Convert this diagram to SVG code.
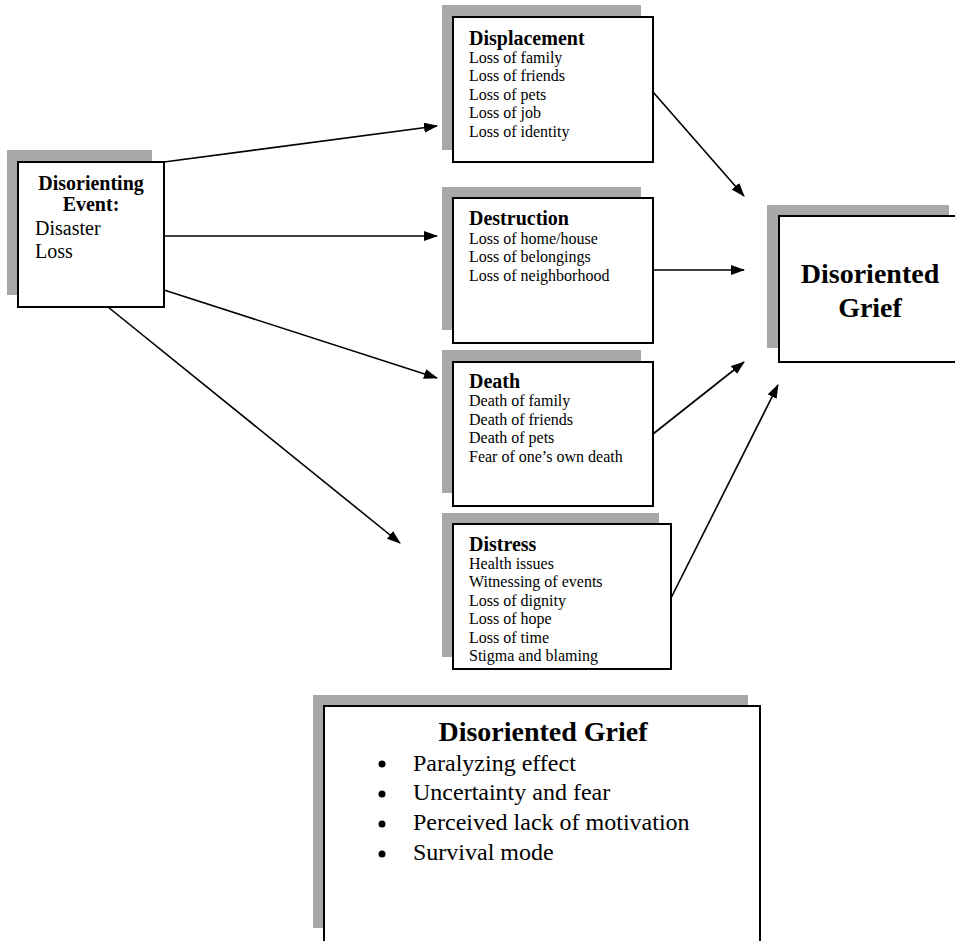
<svg xmlns="http://www.w3.org/2000/svg" width="955" height="941" viewBox="0 0 955 941">
<style>
.sh{fill:#a8a8a8}
.bx{fill:#fff;stroke:#000;stroke-width:2}
text{font-family:"Liberation Serif","Times New Roman",serif;fill:#000}
.h{font-weight:bold;font-size:20px}
.it{font-size:16px}
.big{font-weight:bold;font-size:28px}
.li{font-size:24px}
.cn{stroke:#000;stroke-width:1.6;fill:none;marker-end:url(#ah)}
</style>
<defs>
<marker id="ah" markerWidth="14" markerHeight="10" refX="13" refY="5" orient="auto" markerUnits="userSpaceOnUse">
<path d="M0,0 L14,5 L0,10 Z" fill="#000"/>
</marker>
</defs>
<rect width="955" height="941" fill="#fff"/>
<g id="connectors">
<line class="cn" x1="164" y1="162" x2="437" y2="126"/>
<line class="cn" x1="164" y1="236" x2="437" y2="236"/>
<line class="cn" x1="164" y1="290" x2="437" y2="378"/>
<line class="cn" x1="108" y1="307" x2="400" y2="543"/>
<line class="cn" x1="653" y1="92" x2="744" y2="196"/>
<line class="cn" x1="653" y1="270" x2="744" y2="270"/>
<line class="cn" x1="653" y1="434" x2="744" y2="362"/>
<line class="cn" x1="671" y1="598" x2="778" y2="385"/>
</g>
<g id="event">
<rect class="sh" x="7" y="150" width="145" height="145"/>
<rect class="bx" x="18" y="162" width="146" height="145"/>
<text class="h" x="91" y="190" text-anchor="middle">Disorienting</text>
<text class="h" x="91" y="211" text-anchor="middle">Event:</text>
<text x="35" y="235" font-size="20">Disaster</text>
<text x="35" y="258" font-size="20">Loss</text>
</g>
<g id="displacement">
<rect class="sh" x="442" y="5" width="199" height="145"/>
<rect class="bx" x="453" y="17" width="200" height="145"/>
<text class="h" x="469" y="45">Displacement</text>
<text class="it" x="469" y="63">Loss of family</text>
<text class="it" x="469" y="81">Loss of friends</text>
<text class="it" x="469" y="100">Loss of pets</text>
<text class="it" x="469" y="118">Loss of job</text>
<text class="it" x="469" y="137">Loss of identity</text>
</g>
<g id="destruction">
<rect class="sh" x="442" y="187" width="199" height="143"/>
<rect class="bx" x="453" y="198" width="200" height="145"/>
<text class="h" x="469" y="225">Destruction</text>
<text class="it" x="469" y="244">Loss of home/house</text>
<text class="it" x="469" y="262">Loss of belongings</text>
<text class="it" x="469" y="281">Loss of neighborhood</text>
</g>
<g id="death">
<rect class="sh" x="442" y="350" width="199" height="143"/>
<rect class="bx" x="453" y="362" width="200" height="144"/>
<text class="h" x="469" y="388">Death</text>
<text class="it" x="469" y="406">Death of family</text>
<text class="it" x="469" y="425">Death of friends</text>
<text class="it" x="469" y="443">Death of pets</text>
<text class="it" x="469" y="462">Fear of one’s own death</text>
</g>
<g id="distress">
<rect class="sh" x="442" y="513" width="217" height="144"/>
<rect class="bx" x="453" y="524" width="218" height="145"/>
<text class="h" x="469" y="551">Distress</text>
<text class="it" x="469" y="569">Health issues</text>
<text class="it" x="469" y="587">Witnessing of events</text>
<text class="it" x="469" y="606">Loss of dignity</text>
<text class="it" x="469" y="624">Loss of hope</text>
<text class="it" x="469" y="643">Loss of time</text>
<text class="it" x="469" y="661">Stigma and blaming</text>
</g>
<g id="grief">
<rect class="sh" x="767" y="205" width="182" height="143"/>
<rect class="bx" x="779" y="216" width="180" height="146"/>
<text class="big" x="870" y="283" text-anchor="middle">Disoriented</text>
<text class="big" x="870" y="317" text-anchor="middle">Grief</text>
</g>
<g id="summary">
<rect class="sh" x="313" y="695" width="435" height="233"/>
<rect class="bx" x="324" y="706" width="436" height="250"/>
<text class="big" x="543" y="741" text-anchor="middle">Disoriented Grief</text>
<circle cx="382" cy="764" r="3.5"/>
<circle cx="382" cy="794" r="3.5"/>
<circle cx="382" cy="824" r="3.5"/>
<circle cx="382" cy="854" r="3.5"/>
<text class="li" x="413" y="771">Paralyzing effect</text>
<text class="li" x="413" y="800">Uncertainty and fear</text>
<text class="li" x="413" y="830">Perceived lack of motivation</text>
<text class="li" x="413" y="860">Survival mode</text>
</g>
</svg>
